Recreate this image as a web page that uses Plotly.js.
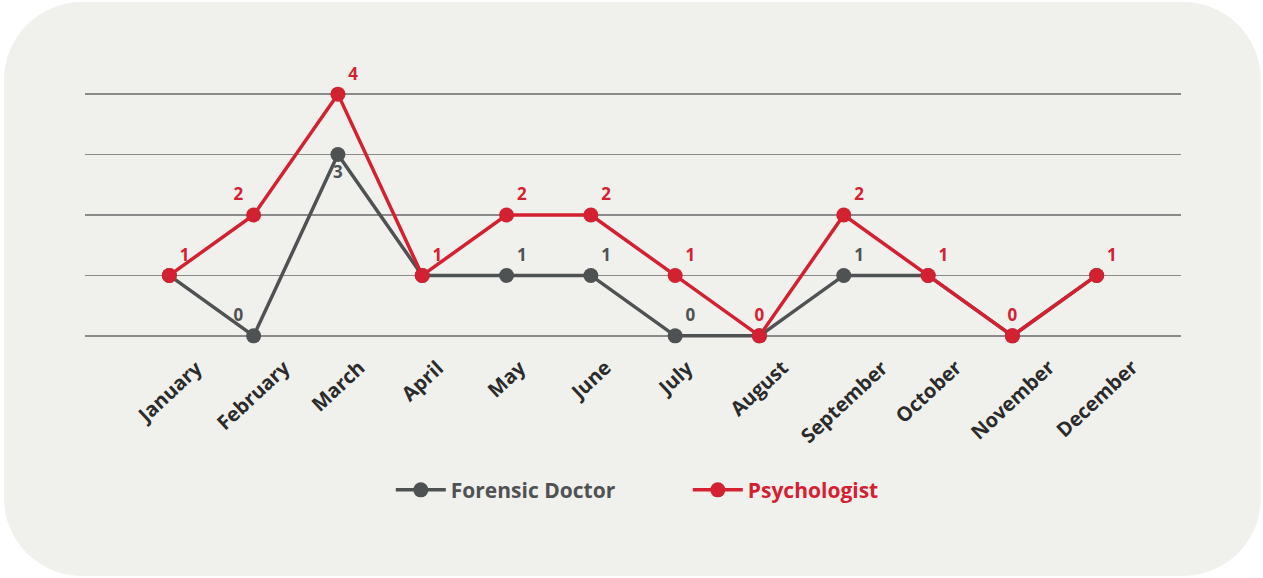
<!DOCTYPE html>
<html>
<head>
<meta charset="utf-8">
<script src="https://cdn.plot.ly/plotly-3.0.1.min.js"></script>
<style>
  html, body { margin: 0; padding: 0; background: #ffffff; }
  #wrap { position: relative; width: 1263px; height: 578px; }
  #bg { position: absolute; left: 4px; top: 2px; width: 1257px; height: 574px; background: #f0f0ec; border-radius: 78px; }
  #chart { position: absolute; left: 0; top: 0; width: 1263px; height: 578px; }
</style>
</head>
<body>
<div id="wrap"><div id="bg"></div><div id="chart"></div></div>
<script>
const months = ["January","February","March","April","May","June","July","August","September","October","November","December"];
const forensicDoctor = [1, 0, 3, 1, 1, 1, 0, 0, 1, 1, 0, 1];
const psychologist   = [1, 2, 4, 1, 2, 2, 1, 0, 2, 1, 0, 1];
// which labels are visible (others are covered by the red series)
const forensicLabelShown = [false, true, true, false, true, true, true, false, true, false, false, false];
const forensicLabelPos = ["top right","top left","bottom center","top right","top right","top right","top right","top right","top right","top right","top right","top right"];
const psychLabelPos = ["top right","top left","top right","top right","top right","top right","top right","top center","top right","top right","top center","top right"];

const GREY = "#4f5253";
const RED = "#d42131";
const FONT = "'Open Sans', 'Noto Sans', sans-serif";

const traces = [
  {
    x: months, y: forensicDoctor, type: "scatter", mode: "lines+markers+text",
    name: '<span style="color:' + GREY + '">Forensic Doctor</span>',
    line: { color: GREY, width: 3.5 },
    marker: { color: GREY, size: 15 },
    text: forensicDoctor.map((v, i) => forensicLabelShown[i] ? "<b>" + v + "</b>" : ""),
    textposition: forensicLabelPos,
    textfont: { family: FONT, size: 17, color: GREY },
    cliponaxis: false, hoverinfo: "skip"
  },
  {
    x: months, y: psychologist, type: "scatter", mode: "lines+markers+text",
    name: '<span style="color:' + RED + '">Psychologist</span>',
    line: { color: RED, width: 3.5 },
    marker: { color: RED, size: 15 },
    text: psychologist.map(v => "<b>" + v + "</b>"),
    textposition: psychLabelPos,
    textfont: { family: FONT, size: 17, color: RED },
    cliponaxis: false, hoverinfo: "skip"
  }
];

const annotations = months.map(m => ({
  x: m, xref: "x", y: 0.01, yref: "paper",
  text: "<b>" + m + "</b>", showarrow: false,
  textangle: -43, xanchor: "center", yanchor: "top",
  font: { family: FONT, size: 20, color: "#2b2b2b" }
}));

const layout = {
  width: 1263, height: 578,
  paper_bgcolor: "rgba(0,0,0,0)", plot_bgcolor: "rgba(0,0,0,0)",
  margin: { l: 85, r: 82, t: 76, b: 224 },
  showlegend: true,
  legend: {
    orientation: "h", x: 0.55, xanchor: "center", y: -0.49, yanchor: "middle",
    font: { family: FONT, size: 21, color: GREY, weight: "bold" },
    itemwidth: 50, entrywidth: 232, entrywidthmode: "pixels",
    tracegroupgap: 0, bgcolor: "rgba(0,0,0,0)"
  },
  xaxis: {
    type: "category", range: [-1, 12], showgrid: false, zeroline: false,
    showticklabels: false, ticks: "", showline: false, fixedrange: true
  },
  yaxis: {
    range: [-0.3, 4.3], tickvals: [0, 1, 2, 3, 4], showgrid: true,
    gridcolor: "#8a8a8a", gridwidth: 1.5, zeroline: false,
    showticklabels: false, ticks: "", showline: false, fixedrange: true
  },
  annotations: annotations,
  font: { family: FONT }
};

Plotly.newPlot("chart", traces, layout, { displayModeBar: false, staticPlot: true });
</script>
</body>
</html>
